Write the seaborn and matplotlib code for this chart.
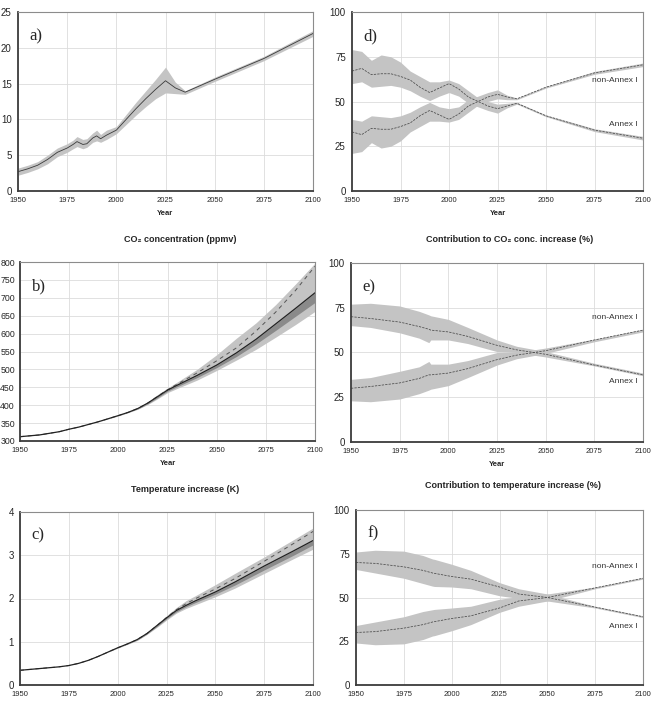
import numpy as np
import matplotlib
matplotlib.use("Agg")
import matplotlib.pyplot as plt
import seaborn as sns
from matplotlib.ticker import MultipleLocator

# ---- panel a: emissions
yrs_a = [1950, 1955, 1960, 1965, 1970, 1975, 1978, 1980, 1983, 1985, 1988, 1990, 1992, 1995,
         2000, 2005, 2010, 2015, 2020, 2025, 2030, 2035, 2050, 2075, 2100]
emis_mid = [2.7, 3.1, 3.6, 4.4, 5.4, 6.0, 6.5, 6.9, 6.5, 6.6, 7.4, 7.7, 7.3, 7.8,
            8.5, 10.0, 11.5, 12.9, 14.2, 15.4, 14.4, 13.8, 15.6, 18.5, 22.0]
emis_lo = [2.2, 2.6, 3.1, 3.8, 4.8, 5.4, 5.9, 6.2, 5.9, 6.1, 6.8, 7.0, 6.8, 7.2,
           8.0, 9.3, 10.6, 11.8, 12.9, 13.7, 13.6, 13.5, 15.3, 18.2, 21.6]
emis_hi = [3.2, 3.6, 4.1, 5.0, 6.0, 6.6, 7.1, 7.6, 7.2, 7.3, 8.1, 8.5, 7.9, 8.5,
           9.0, 10.7, 12.4, 14.0, 15.6, 17.3, 15.2, 14.0, 15.9, 18.8, 22.4]

# ---- panel b: CO2 concentration (ppmv)
yrs_b = [1950, 1960, 1970, 1975, 1980, 1990, 2000, 2005, 2010, 2015, 2020, 2025, 2030,
         2040, 2050, 2060, 2070, 2080, 2090, 2100]
co2_mid = [312, 317, 326, 333, 339, 354, 371, 380, 391, 406, 424, 442, 456,
           483, 512, 546, 584, 627, 670, 714]
co2_dark_lo = [312, 317, 326, 333, 339, 354, 371, 380, 390, 404, 421, 439, 452,
               477, 505, 536, 571, 609, 648, 687]
co2_light_lo = [312, 317, 326, 333, 339, 354, 370, 379, 389, 402, 418, 435, 447,
                470, 497, 526, 556, 590, 625, 662]
co2_light_hi = [312, 317, 326, 333, 339, 354, 372, 382, 394, 410, 430, 448, 465,
                500, 541, 587, 630, 681, 738, 797]
co2_dash = [312, 317, 326, 333, 339, 354, 371, 380, 391, 406, 425, 443, 459,
            490, 524, 560, 607, 660, 720, 788]

# ---- panel c: temperature increase (K)
yrs_c = [1950, 1960, 1970, 1975, 1980, 1985, 1990, 1995, 2000, 2005, 2010, 2015, 2020,
         2025, 2030, 2035, 2040, 2050, 2060, 2075, 2090, 2100]
temp_mid = [0.34, 0.38, 0.42, 0.45, 0.50, 0.57, 0.66, 0.76, 0.86, 0.95, 1.05, 1.19, 1.37,
            1.55, 1.72, 1.84, 1.95, 2.15, 2.38, 2.75, 3.10, 3.34]
temp_dark_lo = [0.34, 0.38, 0.42, 0.45, 0.50, 0.57, 0.66, 0.76, 0.86, 0.95, 1.04, 1.18, 1.35,
                1.53, 1.69, 1.81, 1.91, 2.10, 2.31, 2.66, 3.00, 3.24]
temp_light_lo = [0.34, 0.38, 0.42, 0.45, 0.50, 0.57, 0.66, 0.76, 0.85, 0.94, 1.03, 1.17, 1.33,
                 1.50, 1.66, 1.77, 1.86, 2.04, 2.24, 2.58, 2.92, 3.14]
temp_light_hi = [0.34, 0.38, 0.42, 0.45, 0.50, 0.57, 0.66, 0.76, 0.87, 0.96, 1.07, 1.22, 1.41,
                 1.60, 1.79, 1.95, 2.07, 2.32, 2.58, 2.96, 3.36, 3.63]
temp_dash = [0.34, 0.38, 0.42, 0.45, 0.50, 0.57, 0.66, 0.76, 0.86, 0.95, 1.05, 1.19, 1.37,
             1.56, 1.74, 1.88, 2.00, 2.22, 2.46, 2.86, 3.27, 3.55]

# ---- panel d: contribution to CO2 concentration increase (%)
yrs_d = [1950, 1955, 1960, 1965, 1970, 1975, 1980, 1985, 1990, 1995, 2000, 2005, 2010,
         2015, 2020, 2025, 2030, 2035, 2050, 2075, 2100]
d_ann_mid = [67, 68.5, 65, 65.5, 65.5, 64, 62, 58, 55, 57.5, 60, 57, 52.5,
             50, 47.5, 46, 47.5, 49, 42, 34, 29.5]
d_ann_lo = [60, 61, 58, 58.5, 59, 58, 56, 53, 50.5, 53, 55, 53, 49,
            47, 45, 43.5, 46.5, 48.5, 41.5, 33.2, 28.5]
d_ann_hi = [79, 78, 73, 76, 75, 72, 67, 64, 61, 61, 62, 60, 56,
            52, 50, 48.5, 49, 49.5, 42.5, 34.8, 30.5]
d_non_mid = [33, 31.5, 35, 34.5, 34.5, 36, 38, 42, 45, 42.5, 40, 43, 47.5,
             50, 52.5, 54, 52.5, 51.5, 58, 66, 70.5]
d_non_lo = [21, 22, 27, 24, 25, 28, 33, 36, 39, 39, 38.5, 40, 44,
            48, 50, 51.5, 51, 51, 57.5, 65.2, 69.5]
d_non_hi = [40, 39, 42, 41.5, 41, 42, 44, 47, 49.5, 47, 46, 47, 51,
            53, 55, 56.5, 53.5, 52, 58.5, 66.8, 71.5]

# ---- panels e (CO2 conc.) and f (temperature): shares (%)
yrs_ef = [1950, 1960, 1975, 1985, 1990, 1991, 2000, 2010, 2025, 2035, 2050, 2075, 2100]
e_ann_mid = [70, 69, 67, 64.5, 63, 62.5, 61.5, 59, 54, 51.5, 49, 43, 37.5]
e_ann_lo = [65, 64, 61, 58, 55.5, 57, 57, 55, 50.5, 50, 47.5, 42.5, 37]
e_ann_hi = [77, 77.5, 76, 73, 71, 70.5, 68.5, 64, 57, 53.5, 50.5, 44, 38.5]
e_non_mid = [30, 31, 33, 35.5, 37.5, 37.5, 38.5, 41, 46, 48.5, 51, 57, 62.5]
e_non_lo = [23, 22.5, 24, 27, 29, 29.5, 31.5, 36, 43, 46.5, 49.5, 56, 61.5]
e_non_hi = [35, 36, 39.5, 42, 45, 43.5, 43.5, 45.5, 50, 50, 52.5, 57.5, 63]

f_ann_mid = [70, 69.5, 67.5, 65.5, 64, 63.8, 62, 60.5, 56, 52, 50, 44.5, 39]
f_ann_lo = [66, 64, 61, 58, 56.5, 56.3, 56, 55, 51, 49.5, 48, 44, 38.5]
f_ann_hi = [76, 77, 76.5, 74, 72, 71.8, 69, 65.5, 58.5, 55, 52, 45, 39.5]
f_non_mid = [30, 30.5, 32.5, 34.5, 36, 36.2, 38, 39.5, 44, 48, 50, 55.5, 61]
f_non_lo = [24, 23, 23.5, 26, 28, 28.2, 31, 34.5, 41.5, 45, 48, 55, 60.5]
f_non_hi = [34, 36, 39, 42, 43, 43.2, 44, 45, 49, 50.5, 52, 56, 61.5]

titles = {
    "b": "CO\u2082 concentration (ppmv)",
    "e": "Contribution to CO\u2082 conc. increase (%)",
    "c": "Temperature increase (K)",
    "f": "Contribution to temperature increase (%)",
}

sns.set_style("white")
plt.rcParams["font.family"] = ["Liberation Sans", "DejaVu Sans"]

W, H = 653, 703
fig = plt.figure(figsize=(W / 100, H / 100), dpi=100)

LIGHT = "#c4c4c4"
DARK = "#8a8a8a"
LINE = "#3a3a3a"


def make_ax(x0, x1, y0, y1):
    ax = fig.add_axes([x0 / W, 1 - y1 / H, (x1 - x0) / W, (y1 - y0) / H])
    ax.set_xlim(1950, 2100)
    ax.set_xticks(range(1950, 2101, 25))
    ax.grid(True, color="#dcdcdc", linewidth=0.6)
    ax.set_axisbelow(True)
    for s in ["top", "right"]:
        ax.spines[s].set_color("#8c8c8c")
        ax.spines[s].set_linewidth(0.8)
    for s in ["left", "bottom"]:
        ax.spines[s].set_color("#3c3c3c")
        ax.spines[s].set_linewidth(1.3)
    ax.tick_params(axis="x", labelsize=5.5, length=2.5, width=0.7, pad=2, color="#3c3c3c")
    ax.tick_params(axis="y", labelsize=7, length=2.5, width=0.7, pad=2, color="#3c3c3c")
    ax.tick_params(which="minor", length=1.8, width=0.6, color="#3c3c3c")
    return ax


def panel_letter(ax, txt):
    ax.text(0.04, 0.91, txt, transform=ax.transAxes, family="Liberation Serif",
            fontsize=12, va="top", ha="left")


def year_label(ax):
    ax.set_xlabel("Year", fontsize=5.5, fontweight="bold", labelpad=4)


def share_panel(ax, yrs, a_mid, a_lo, a_hi, n_mid, n_lo, n_hi, y_non, y_ann):
    ax.fill_between(yrs, a_lo, a_hi, color=LIGHT, linewidth=0)
    ax.fill_between(yrs, n_lo, n_hi, color=LIGHT, linewidth=0)
    sns.lineplot(x=yrs, y=a_mid, ax=ax, color="#4a4a4a", linewidth=0.55, linestyle=(0, (3, 1.5)))
    sns.lineplot(x=yrs, y=n_mid, ax=ax, color="#4a4a4a", linewidth=0.55, linestyle=(0, (3, 1.5)))
    ax.set_ylim(0, 100)
    ax.set_yticks([0, 25, 50, 75, 100])
    ax.yaxis.set_minor_locator(MultipleLocator(5))
    ax.text(2097, y_non, "non-Annex I", fontsize=6, ha="right", va="center", color="#333333")
    ax.text(2097, y_ann, "Annex I", fontsize=6, ha="right", va="center", color="#333333")


def range_panel(ax, yrs, mid, dark_lo, light_lo, light_hi, dash):
    ax.fill_between(yrs, light_lo, light_hi, color=LIGHT, linewidth=0)
    ax.fill_between(yrs, dark_lo, mid, color=DARK, linewidth=0)
    sns.lineplot(x=yrs, y=dash, ax=ax, color="#555555", linewidth=0.7, linestyle=(0, (4, 4)))
    sns.lineplot(x=yrs, y=mid, ax=ax, color="#222222", linewidth=0.9)


# a)
ax = make_ax(18, 313, 12, 191)
ax.fill_between(yrs_a, emis_lo, emis_hi, color=LIGHT, linewidth=0)
sns.lineplot(x=yrs_a, y=emis_mid, ax=ax, color=LINE, linewidth=0.6)
ax.set_ylim(0, 25)
ax.set_yticks(range(0, 26, 5))
panel_letter(ax, "a)")
year_label(ax)

# d)
ax = make_ax(352, 643, 12, 191)
share_panel(ax, yrs_d, d_ann_mid, d_ann_lo, d_ann_hi, d_non_mid, d_non_lo, d_non_hi, 62, 37)
panel_letter(ax, "d)")
year_label(ax)

# b)
ax = make_ax(20, 315, 262, 441)
range_panel(ax, yrs_b, co2_mid, co2_dark_lo, co2_light_lo, co2_light_hi, co2_dash)
ax.set_ylim(300, 800)
ax.set_yticks(range(300, 801, 50))
ax.tick_params(axis="y", labelsize=6.3, pad=1.2)
panel_letter(ax, "b)")
year_label(ax)
fig.text(180 / W, 1 - 239 / H, titles["b"], fontsize=6.5, fontweight="bold", ha="center", va="center")

# e)
ax = make_ax(351, 643, 263, 442)
share_panel(ax, yrs_ef, e_ann_mid, e_ann_lo, e_ann_hi, e_non_mid, e_non_lo, e_non_hi, 69.5, 34)
panel_letter(ax, "e)")
year_label(ax)
fig.text(510 / W, 1 - 239 / H, titles["e"], fontsize=6.5, fontweight="bold", ha="center", va="center")

# c)
ax = make_ax(20, 313, 512, 685)
range_panel(ax, yrs_c, temp_mid, temp_dark_lo, temp_light_lo, temp_light_hi, temp_dash)
ax.set_ylim(0, 4)
ax.set_yticks(range(0, 5))
panel_letter(ax, "c)")
fig.text(185 / W, 1 - 489 / H, titles["c"], fontsize=6.5, fontweight="bold", ha="center", va="center")

# f)
ax = make_ax(356, 643, 510, 685)
share_panel(ax, yrs_ef, f_ann_mid, f_ann_lo, f_ann_hi, f_non_mid, f_non_lo, f_non_hi, 67.5, 33.5)
panel_letter(ax, "f)")
fig.text(513 / W, 1 - 486 / H, titles["f"], fontsize=6.5, fontweight="bold", ha="center", va="center")

fig.savefig("out.png", dpi=100)
